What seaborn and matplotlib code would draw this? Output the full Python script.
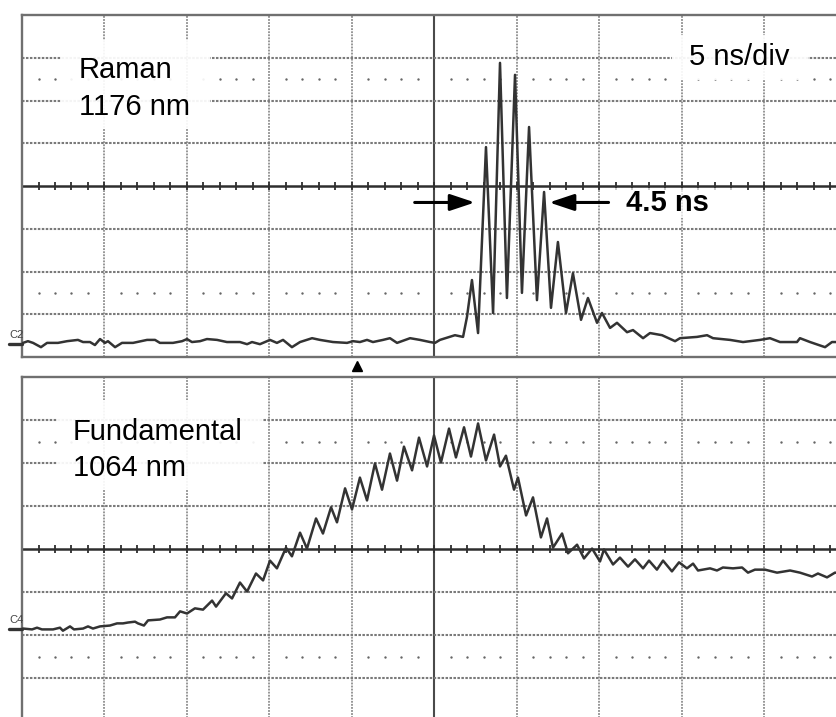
import numpy as np
import matplotlib
matplotlib.use("Agg")
import matplotlib.pyplot as plt
from matplotlib.patches import Rectangle
from matplotlib.lines import Line2D
import seaborn as sns

# ---- Raman channel (C2): time in ns, signal in vertical divisions ----
raman_t = [0.06, 0.36, 0.67, 1.15, 1.52, 2.18, 2.73, 3.39, 3.70, 4.12,
           4.42, 4.73, 5.03, 5.21, 5.64, 6.06, 6.73, 7.58, 8.06, 8.36,
           9.15, 9.70, 10.00, 10.30, 10.79, 11.21, 11.82, 12.42, 12.79, 13.21,
           13.64, 13.94, 14.42, 15.03, 15.45, 15.82, 16.36, 16.85, 17.58, 18.06,
           18.85, 19.70, 20.06, 20.48, 20.91, 21.27, 21.88, 22.30, 22.73, 23.52,
           24.12, 24.73, 25.03, 25.33, 26.24, 26.73, 26.97, 27.27, 27.64, 28.12,
           28.55, 28.97, 29.39, 29.88, 30.30, 30.73, 31.21, 31.64, 32.06, 32.48,
           32.97, 33.39, 33.88, 34.30, 34.85, 35.15, 35.64, 36.06, 36.67, 37.03,
           37.64, 38.06, 38.79, 39.58, 39.88, 40.91, 41.52, 41.88, 42.91, 43.70,
           44.73, 45.33, 45.94, 46.97, 47.15, 47.76, 48.67, 49.09, 50.00]
raman_v = [-3.67, -3.63, -3.67, -3.77, -3.67, -3.67, -3.63, -3.60, -3.65, -3.65,
           -3.72, -3.58, -3.67, -3.63, -3.77, -3.67, -3.67, -3.60, -3.60, -3.67,
           -3.67, -3.63, -3.58, -3.65, -3.63, -3.58, -3.60, -3.65, -3.65, -3.65,
           -3.70, -3.65, -3.70, -3.60, -3.67, -3.60, -3.77, -3.65, -3.56, -3.60,
           -3.65, -3.67, -3.63, -3.65, -3.60, -3.65, -3.60, -3.56, -3.67, -3.56,
           -3.60, -3.65, -3.67, -3.60, -3.49, -3.53, -3.06, -2.20, -3.44, 0.91,
           -2.97, 2.88, -2.62, 2.60, -2.50, 1.38, -2.67, -0.14, -2.85, -1.31,
           -2.97, -2.04, -3.13, -2.62, -3.20, -2.97, -3.32, -3.20, -3.42, -3.37,
           -3.56, -3.44, -3.49, -3.63, -3.56, -3.53, -3.49, -3.56, -3.60, -3.65,
           -3.60, -3.56, -3.65, -3.65, -3.56, -3.65, -3.77, -3.65, -3.65]

# ---- Fundamental channel (C4) ----
fund_t = [0.06, 0.61, 0.91, 1.21, 1.88, 2.30, 2.48, 2.91, 3.15, 3.70,
          4.00, 4.30, 4.73, 5.33, 5.76, 6.12, 6.42, 6.85, 7.03, 7.39,
          7.64, 8.36, 8.79, 9.27, 9.58, 10.00, 10.48, 10.97, 11.52, 11.76,
          12.36, 12.73, 13.21, 13.64, 14.18, 14.61, 15.03, 15.45, 16.00, 16.36,
          16.85, 17.27, 17.82, 18.24, 18.73, 19.09, 19.58, 20.00, 20.48, 20.91,
          21.39, 21.82, 22.30, 22.73, 23.15, 23.64, 24.06, 24.55, 24.97, 25.39,
          25.88, 26.30, 26.79, 27.21, 27.64, 28.12, 28.61, 28.97, 29.33, 29.82,
          30.06, 30.55, 30.97, 31.45, 31.82, 32.18, 32.73, 33.09, 33.64, 34.06,
          34.55, 35.03, 35.27, 35.82, 36.24, 36.73, 37.15, 37.64, 38.00, 38.48,
          38.85, 39.39, 39.82, 40.30, 40.67, 40.97, 41.70, 42.12, 42.48, 43.09,
          43.64, 44.00, 44.42, 45.03, 45.76, 46.55, 47.15, 47.88, 48.24, 48.79,
          49.27, 50.00]
fund_v = [-1.85, -1.87, -1.83, -1.87, -1.87, -1.83, -1.90, -1.80, -1.87, -1.85,
          -1.80, -1.85, -1.80, -1.78, -1.73, -1.73, -1.71, -1.69, -1.73, -1.78,
          -1.66, -1.64, -1.59, -1.59, -1.45, -1.50, -1.38, -1.41, -1.20, -1.34,
          -1.03, -1.15, -0.78, -0.99, -0.57, -0.73, -0.27, -0.45, 0.03, -0.17,
          0.38, 0.01, 0.71, 0.36, 0.97, 0.62, 1.41, 0.92, 1.66, 1.13,
          1.99, 1.38, 2.22, 1.59, 2.38, 1.83, 2.59, 1.92, 2.64, 2.01,
          2.80, 2.13, 2.83, 2.15, 2.92, 2.06, 2.66, 1.92, 2.17, 1.38,
          1.66, 0.78, 1.20, 0.27, 0.71, 0.03, 0.36, -0.10, 0.10, -0.22,
          0.01, -0.29, -0.01, -0.36, -0.20, -0.41, -0.24, -0.45, -0.27, -0.48,
          -0.27, -0.52, -0.31, -0.45, -0.34, -0.50, -0.45, -0.50, -0.43, -0.45,
          -0.43, -0.55, -0.48, -0.48, -0.55, -0.50, -0.55, -0.64, -0.57, -0.66,
          -0.55, -0.57]

# Pulse width annotation (full width at half maximum)
fwhm_left_ns = 27.45
fwhm_ns = 4.5

panel_labels = [("Raman", "1176 nm"), ("Fundamental", "1064 nm")]
timebase_label = "5 ns/div"
channel_names = ["C2", "C4"]

sns.set_style("white")
plt.rcParams["font.family"] = ["Liberation Sans", "DejaVu Sans"]
plt.rcParams["text.color"] = "black"

W, H = 836, 717
fig = plt.figure(figsize=(W / 100, H / 100), dpi=100)


def fx(px):
    return px / W


def fy(py):
    return 1 - py / H


GRID_C = "#7a7a7a"
TRACE_C = "#333333"

ax_top = fig.add_axes([fx(22), fy(357), 825 / W, 342 / H])
ax_bot = fig.add_axes([fx(22), fy(721), 825 / W, 344 / H])


def graticule(ax):
    ax.set_xlim(0, 50)
    ax.set_ylim(-4, 4)
    ax.set_xticks([])
    ax.set_yticks([])
    for side, sp in ax.spines.items():
        sp.set_color("#707070")
        sp.set_linewidth(1.7)
    for i in range(1, 10):
        if i == 5:
            ax.axvline(25, color="#4a4a4a", lw=1.5, zorder=1)
        else:
            ax.axvline(i * 5, color=GRID_C, lw=1.1, ls=(0, (1.2, 0.8)), zorder=1)
    for j in range(-3, 4):
        if j == 0:
            ax.axhline(0, color="#2e2e2e", lw=1.8, zorder=1)
        else:
            ax.axhline(j, color=GRID_C, lw=1.5, ls=(0, (1.2, 0.7)), zorder=1)
    minor = np.arange(0, 51, 1.0)
    ax.vlines(minor, -0.1, 0.1, color="#2e2e2e", lw=1.3, zorder=1)
    dots = minor[(minor % 5) != 0]
    for yy in (2.5, -2.5):
        ax.scatter(dots, np.full_like(dots, yy), s=3, color="#666666",
                   linewidths=0, zorder=1)


graticule(ax_top)
graticule(ax_bot)

sns.lineplot(x=raman_t, y=raman_v, ax=ax_top, estimator=None, sort=False,
             color=TRACE_C, lw=1.8, zorder=3)
sns.lineplot(x=fund_t, y=fund_v, ax=ax_bot, estimator=None, sort=False,
             color=TRACE_C, lw=1.8, zorder=3)

# FWHM arrows on the Raman pulse
baseline = float(np.median(raman_v[:50]))
half_level = (max(raman_v) + baseline) / 2
fwhm_right_ns = fwhm_left_ns + fwhm_ns
arrow_kw = dict(arrowstyle="-|>,head_length=0.75,head_width=0.25",
                color="black", lw=2.2, mutation_scale=20, shrinkA=0, shrinkB=0)
ax_top.annotate("", xy=(fwhm_left_ns, half_level),
                xytext=(fwhm_left_ns - 3.65, half_level), arrowprops=arrow_kw,
                zorder=5)
ax_top.annotate("", xy=(fwhm_right_ns, half_level),
                xytext=(fwhm_right_ns + 3.6, half_level), arrowprops=arrow_kw,
                zorder=5)

# White backing boxes behind the labels
for (x0, y0, x1, y1, a) in [(61, 40, 210, 128, 0.92),
                            (57, 400, 262, 490, 0.92),
                            (672, 35, 808, 80, 0.92),
                            (610, 188, 740, 218, 0.7)]:
    fig.add_artist(Rectangle((fx(x0), fy(y1)), (x1 - x0) / W, (y1 - y0) / H,
                             transform=fig.transFigure, facecolor="white",
                             edgecolor="none", alpha=a, zorder=2))

fs = 21
txt = dict(fontsize=fs, va="baseline", color="black", zorder=6)
fig.text(fx(79), fy(78), panel_labels[0][0], **txt)
fig.text(fx(79), fy(115), panel_labels[0][1], **txt)
fig.text(fx(73), fy(440), panel_labels[1][0], **txt)
fig.text(fx(73), fy(476), panel_labels[1][1], **txt)
fig.text(fx(689), fy(65), timebase_label, **txt)
fig.text(fx(626), fy(211), f"{fwhm_ns} ns", fontweight="bold", **txt)

# Channel ground markers
for name, ty, gy in [(channel_names[0], 338, 344), (channel_names[1], 623, 629)]:
    fig.text(fx(9), fy(ty), name, fontsize=8, color="#444444",
             va="baseline", zorder=6)
    fig.add_artist(Line2D([fx(9), fx(22)], [fy(gy), fy(gy)], lw=2.4,
                          color="#333333", transform=fig.transFigure, zorder=6))

# Trigger position marker
fig.add_artist(Line2D([fx(357)], [fy(366)], marker="^", markersize=6.5,
                      color="black", lw=0, transform=fig.transFigure, zorder=6))

fig.savefig("out.png", dpi=100)
